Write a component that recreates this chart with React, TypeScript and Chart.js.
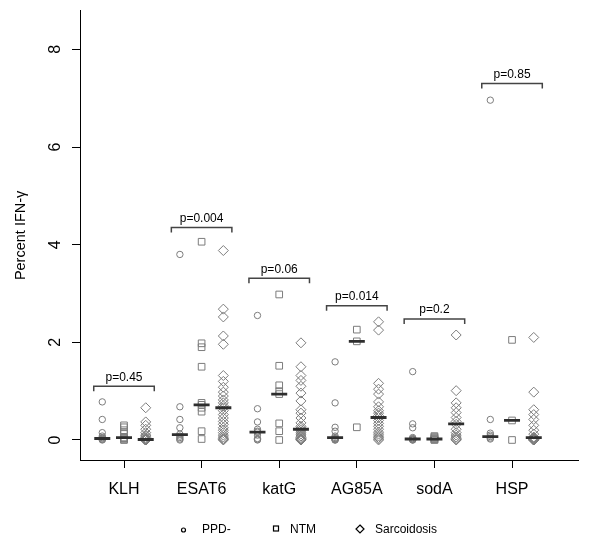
import React, { useEffect, useRef } from 'react';
import { Chart, registerables } from 'chart.js';

Chart.register(...registerables);

// ---- data ----
const categories = ['KLH', 'ESAT6', 'katG', 'AG85A', 'sodA', 'HSP'];
const groupNames = ['PPD-', 'NTM', 'Sarcoidosis'];

const ppdValues: number[][] = [
  [0.78, 0.42, 0.15, 0.08, 0.05, 0.04, 0.02, 0.01, 0],
  [3.8, 0.68, 0.42, 0.25, 0.12, 0.08, 0.05, 0.02, 0],
  [2.55, 0.64, 0.37, 0.22, 0.18, 0.16, 0.1, 0.03, 0.01, 0],
  [1.6, 0.76, 0.26, 0.18, 0.08, 0.05, 0.03, 0.02, 0.01, 0, 0],
  [1.4, 0.33, 0.25, 0.05, 0.03, 0.02, 0.01, 0, 0],
  [6.96, 0.42, 0.14, 0.1, 0.07, 0.04, 0.02],
];

const ntmValues: number[][] = [
  [0.3, 0.26, 0.2, 0.14, 0.05, 0.04, 0.03, 0.01, 0],
  [4.06, 1.98, 1.9, 1.5, 0.76, 0.72, 0.66, 0.58, 0.18, 0.02],
  [2.98, 1.52, 1.12, 1.0, 0.94, 0.34, 0.18, 0],
  [2.26, 2.02, 0.26],
  [0.08, 0.06, 0.04, 0.02, 0.01, 0],
  [2.05, 0.4, 0],
];

const sarcValues: number[][] = [
  [0.66, 0.37, 0.3, 0.22, 0.15, 0.1, 0.08, 0.05, 0.03, 0.02, 0.01, 0.01, 0, 0, 0, 0, 0, 0, 0],
  [3.88, 2.68, 2.52, 2.13, 1.96, 1.32, 1.2, 1.08, 0.98, 0.9, 0.82, 0.76, 0.7, 0.66, 0.6, 0.52, 0.45, 0.38, 0.32, 0.25, 0.2, 0.15, 0.1, 0.06, 0.03, 0.01, 0],
  [1.99, 1.5, 1.32, 1.22, 1.1, 0.96, 0.8, 0.62, 0.55, 0.45, 0.35, 0.28, 0.24, 0.2, 0.16, 0.12, 0.08, 0.05, 0.03, 0.02, 0.01, 0, 0, 0, 0],
  [2.42, 2.25, 1.16, 1.04, 0.94, 0.78, 0.68, 0.6, 0.55, 0.5, 0.46, 0.4, 0.34, 0.28, 0.22, 0.16, 0.12, 0.08, 0.05, 0.02, 0],
  [2.15, 1.01, 0.76, 0.66, 0.56, 0.46, 0.38, 0.32, 0.22, 0.15, 0.1, 0.06, 0.03, 0.01, 0],
  [2.1, 0.98, 0.62, 0.52, 0.42, 0.3, 0.2, 0.12, 0.06, 0.05, 0.04, 0.03, 0.02, 0.01, 0.01, 0, 0, 0, 0],
];

const ppdMedians = [0.03, 0.11, 0.16, 0.05, 0.02, 0.07];
const ntmMedians = [0.05, 0.72, 0.94, 2.02, 0.02, 0.4];
const sarcMedians = [0.01, 0.66, 0.22, 0.46, 0.33, 0.05];

const bracketLevels = [1.1, 4.35, 3.31, 2.75, 2.48, 7.3];
const pValueLabels = ['p=0.45', 'p=0.004', 'p=0.06', 'p=0.014', 'p=0.2', 'p=0.85'];

const yTickValues = [0, 2, 4, 6, 8];

// ---- styling ----
const FONT = '"Liberation Sans", Arial, Helvetica, sans-serif';
const GROUP_OFFSETS = [-0.28, 0, 0.28];
const POINT_STYLES = ['circle', 'rect', 'rectRot'];
const POINT_RADII = [3.2, 4.7, 5];
const POINT_COLOR = '#7c7c7c';

export default function App() {
  const canvasRef = useRef<HTMLCanvasElement>(null);

  useEffect(() => {
    const canvas = canvasRef.current;
    if (!canvas) return;

    const groups = [ppdValues, ntmValues, sarcValues];
    const medians = [ppdMedians, ntmMedians, sarcMedians];

    const datasets: any[] = groups.map((g, gi) => ({
      type: 'scatter',
      label: groupNames[gi],
      data: g.flatMap((vals, ci) => vals.map((v) => ({ x: ci + 1 + GROUP_OFFSETS[gi], y: v }))),
      pointStyle: POINT_STYLES[gi],
      pointRadius: POINT_RADII[gi],
      pointHoverRadius: POINT_RADII[gi],
      borderColor: POINT_COLOR,
      backgroundColor: 'rgba(0,0,0,0)',
      borderWidth: 1,
      order: 1,
    }));
    datasets.push({
      type: 'scatter',
      label: 'median',
      data: medians.flatMap((m, gi) => m.map((v, ci) => ({ x: ci + 1 + GROUP_OFFSETS[gi], y: v }))),
      pointStyle: 'line',
      pointRadius: 8,
      pointHoverRadius: 8,
      borderColor: '#2e2e2e',
      backgroundColor: '#2e2e2e',
      borderWidth: 2.8,
      order: 0,
    });

    const overlay = {
      id: 'overlay',
      afterDraw(chart: any) {
        const ctx = chart.ctx as CanvasRenderingContext2D;
        const xs = chart.scales.x;
        const ys = chart.scales.y;
        ctx.save();
        // rotated y tick labels
        ctx.fillStyle = '#000';
        ctx.font = `16px ${FONT}`;
        ctx.textAlign = 'center';
        ctx.textBaseline = 'middle';
        yTickValues.forEach((v) => {
          const y = ys.getPixelForValue(v);
          ctx.save();
          ctx.translate(56, y);
          ctx.rotate(-Math.PI / 2);
          ctx.fillText(String(v), 0, 0);
          ctx.restore();
        });
        // brackets with p-values
        ctx.strokeStyle = '#444';
        ctx.lineWidth = 1.5;
        ctx.font = `12px ${FONT}`;
        ctx.textBaseline = 'bottom';
        bracketLevels.forEach((lvl, i) => {
          const x1 = xs.getPixelForValue(i + 1 - 0.39);
          const x2 = xs.getPixelForValue(i + 1 + 0.39);
          const cx = xs.getPixelForValue(i + 1);
          const y = ys.getPixelForValue(lvl);
          ctx.beginPath();
          ctx.moveTo(x1, y + 5);
          ctx.lineTo(x1, y);
          ctx.lineTo(x2, y);
          ctx.lineTo(x2, y + 5);
          ctx.stroke();
          ctx.fillText(pValueLabels[i], cx, y - 3);
        });
        // legend
        const ly = 530;
        ctx.strokeStyle = '#000';
        ctx.lineWidth = 1.2;
        ctx.beginPath();
        ctx.arc(183.5, ly, 2, 0, Math.PI * 2);
        ctx.stroke();
        ctx.strokeRect(273.5, ly - 4, 5, 5);
        ctx.beginPath();
        ctx.moveTo(360, ly - 5);
        ctx.lineTo(364, ly - 1);
        ctx.lineTo(360, ly + 3);
        ctx.lineTo(356, ly - 1);
        ctx.closePath();
        ctx.stroke();
        ctx.fillStyle = '#000';
        ctx.font = `12px ${FONT}`;
        ctx.textAlign = 'left';
        ctx.textBaseline = 'middle';
        const legendX = [202, 290, 375];
        groupNames.forEach((n, i) => ctx.fillText(n, legendX[i], ly));
        ctx.restore();
      },
    };

    const chart = new Chart(canvas, {
      type: 'scatter',
      data: { datasets },
      options: {
        animation: false,
        responsive: false,
        events: [],
        layout: { padding: { top: 10, right: 22, left: 0, bottom: 0 } },
        plugins: { legend: { display: false }, tooltip: { enabled: false } },
        scales: {
          x: {
            type: 'linear',
            min: 0.433,
            max: 6.85,
            ticks: {
              stepSize: 1,
              includeBounds: false,
              autoSkip: false,
              maxRotation: 0,
              minRotation: 0,
              padding: 12,
              color: '#000',
              font: { family: FONT, size: 16 },
              callback: (v: any) => categories[Math.round(Number(v)) - 1] ?? '',
            },
            grid: { drawOnChartArea: false, drawTicks: true, tickLength: 8, color: '#000', lineWidth: 1 },
            border: { display: true, color: '#000', width: 1 },
            afterFit: (s: any) => {
              s.height = 83;
            },
          },
          y: {
            type: 'linear',
            min: -0.41,
            max: 8.79,
            ticks: { stepSize: 2, includeBounds: false, display: false },
            grid: { drawOnChartArea: false, drawTicks: true, tickLength: 8, color: '#000', lineWidth: 1 },
            border: { display: true, color: '#000', width: 1 },
            title: {
              display: true,
              text: 'Percent IFN-γ',
              color: '#000',
              font: { family: FONT, size: 14.5 },
              padding: { top: 12, bottom: 0 },
            },
            afterFit: (s: any) => {
              s.width = 80;
            },
          },
        },
      } as any,
      plugins: [overlay],
    });

    return () => chart.destroy();
  }, []);

  return (
    <div style={{ position: 'fixed', left: 0, top: 0, width: 600, height: 543, background: '#fff' }}>
      <canvas ref={canvasRef} width={600} height={543} style={{ display: 'block' }} />
    </div>
  );
}
